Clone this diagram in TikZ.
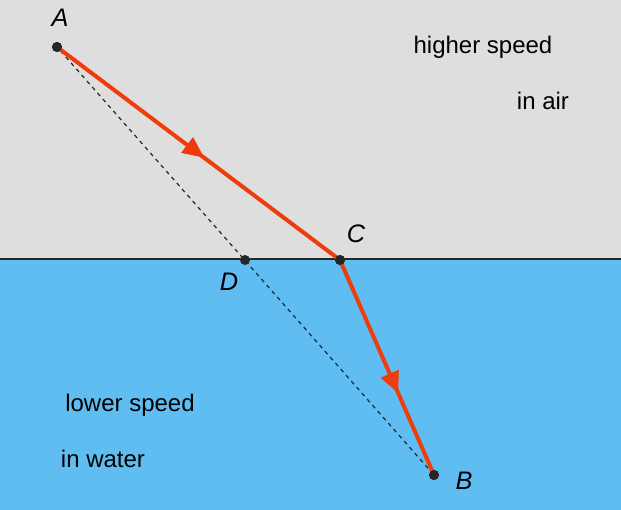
\documentclass[tikz,border=0pt]{standalone}
\usepackage{fontspec}
\setmainfont{Liberation Sans}
\usetikzlibrary{decorations.markings,arrows.meta}
\definecolor{air}{HTML}{DEDEDE}
\definecolor{water}{HTML}{5FBDF2}
\definecolor{ray}{HTML}{F03C0A}
\begin{document}
\begin{tikzpicture}[x=0.75pt,y=-0.75pt,
  lbl/.style={font=\fontsize{18}{20}\selectfont},
  pt/.style={circle,fill=black!85,inner sep=0pt,minimum size=7.5pt},
  raypath/.style={draw=ray,line width=3pt,postaction={decorate},
    decoration={markings,mark=at position #1 with {\arrow{Triangle[angle=60:14pt,length=16pt,fill=ray]}}}}]
\fill[air] (0,0) rectangle (621,259);
\fill[water] (0,259) rectangle (621,510);
\useasboundingbox (0,0) rectangle (621,510);
\draw[line width=1.3pt,black!85] (0,259) -- (621,259);
\node[pt] (A) at (57,47) {};
\node[pt] (C) at (340,260) {};
\node[pt] (D) at (245,260) {};
\node[pt] (B) at (434,475) {};
\draw[dashed,line width=0.9pt,black!85] (A) -- (B);
\draw[raypath=0.52] (A.center) -- (C.center);
\draw[raypath=0.62] (C.center) -- (B.center);
\node[pt] at (57,47) {};
\node[pt] at (340,260) {};
\node[pt] at (434,475) {};
\node[lbl,font=\fontsize{19}{20}\selectfont\itshape] (lA) at (60,18) {A};
\node[lbl,font=\fontsize{19}{20}\selectfont\itshape] (lC) at (356,234) {C};
\node[lbl,font=\fontsize{19}{20}\selectfont\itshape] (lD) at (229,282) {D};
\node[lbl,font=\fontsize{19}{20}\selectfont\itshape] (lB) at (464,481) {B};
\node[lbl] (t1) at (483,47) {higher speed};
\node[lbl] (t2) at (543,101) {in air};
\node[lbl] (t3) at (130,405) {lower speed};
\node[lbl] (t4) at (103,459) {in water};
\end{tikzpicture}
\end{document}
